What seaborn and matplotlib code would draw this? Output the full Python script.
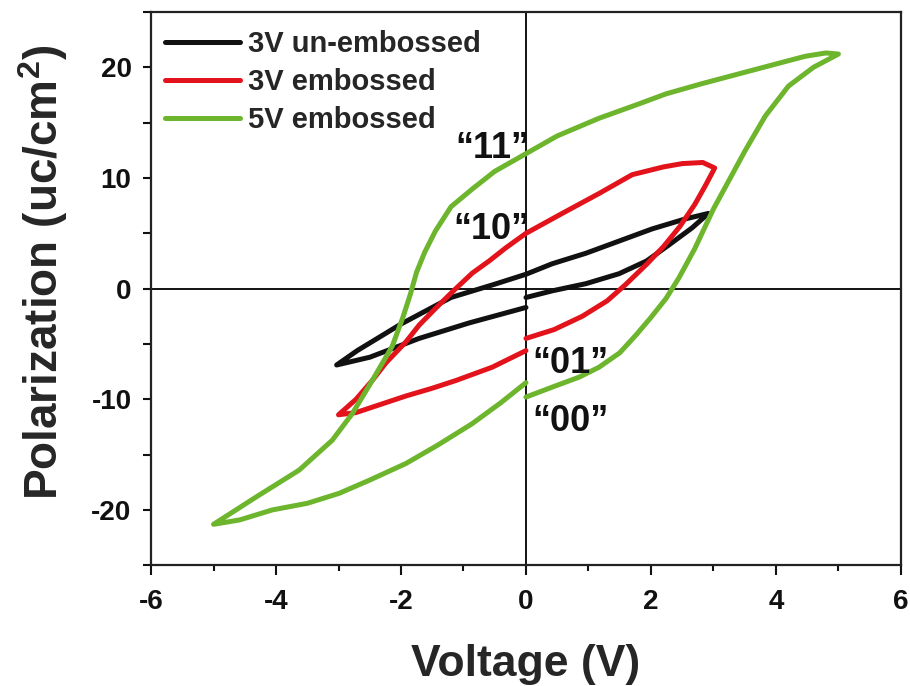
import matplotlib
matplotlib.use("Agg")
import matplotlib.pyplot as plt
import seaborn as sns
import pandas as pd
from matplotlib.ticker import MultipleLocator

# ---- data ----
v_black = [0, 0.42, 0.96, 1.49, 1.93, 2.3, 2.66, 2.92, 2.55, 2.02, 1.49, 0.96, 0.42, 0,
           -0.5, -1.2, -2.0, -2.7, -3.03, -2.5, -1.71, -0.91, 0]
p_black = [-0.8, -0.2, 0.45, 1.35, 2.5, 4.0, 5.5, 6.8, 6.3, 5.4, 4.3, 3.2, 2.25, 1.3,
           0.4, -0.8, -3.2, -5.6, -6.9, -6.2, -4.5, -3.1, -1.7]

v_red = [0, 0.45, 0.9, 1.3, 1.6, 1.93, 2.2, 2.46, 2.7, 2.87, 3.02, 2.83, 2.5, 2.2, 1.7,
         1.17, 0.58, 0, -0.32, -0.59, -0.86, -1.18, -1.45, -1.71, -1.92, -2.24, -2.46,
         -2.72, -3.0, -2.72, -2.4, -1.92, -1.5, -1.12, -0.54, 0]
p_red = [-4.5, -3.7, -2.5, -1.1, 0.4, 2.2, 3.8, 5.6, 7.6, 9.3, 10.9, 11.4, 11.3, 11.0, 10.3,
         8.6, 6.8, 5.0, 3.7, 2.5, 1.4, -0.3, -1.8, -3.3, -4.8, -6.7, -8.3,
         -10.0, -11.4, -11.2, -10.6, -9.7, -9.0, -8.3, -7.1, -5.6]

v_green = [0, 0.42, 0.85, 1.17, 1.5, 1.76, 2.0, 2.24, 2.45, 2.7, 3.0, 3.26, 3.5, 3.83, 4.2,
           4.6, 5.0, 4.8, 4.47, 4.0, 3.4, 2.8, 2.24, 1.81, 1.17, 0.5, 0, -0.5, -0.86, -1.2,
           -1.45, -1.62, -1.75, -1.85, -1.97, -2.14, -2.46, -2.78, -3.1, -3.63, -4.31, -5.0,
           -4.58, -4.06, -3.5, -2.99, -2.5, -1.92, -1.4, -0.86, -0.4, 0]
p_green = [-9.8, -8.9, -8.0, -7.1, -5.8, -4.2, -2.6, -0.9, 1.0, 3.6, 7.2, 9.9, 12.4, 15.6, 18.3,
           20.0, 21.2, 21.3, 21.0, 20.3, 19.4, 18.5, 17.6, 16.7, 15.4, 13.8, 12.2, 10.6, 9.0, 7.4,
           5.2, 3.3, 1.5, -0.5, -2.6, -5.2, -8.3, -11.3, -13.7, -16.4, -18.8, -21.3,
           -20.9, -20.0, -19.4, -18.5, -17.3, -15.8, -14.1, -12.2, -10.3, -8.5]

series_names = ["3V un-embossed", "3V embossed", "5V embossed"]
series_colors = ["#111111", "#e3131b", "#6cb52d"]

state_labels = ["\u201c11\u201d", "\u201c10\u201d", "\u201c01\u201d", "\u201c00\u201d"]
state_v = [0.05, 0.05, 0.1, 0.1]
state_p = [12.7, 5.3, -6.8, -12.0]
state_ha = ["right", "right", "left", "left"]

x_ticks = [-6, -4, -2, 0, 2, 4, 6]
y_ticks = [-20, -10, 0, 10, 20]

# ---- style ----
sns.set_theme(style="white")
plt.rcParams["font.family"] = ["Liberation Sans", "DejaVu Sans"]
plt.rcParams["mathtext.fontset"] = "custom"
plt.rcParams["mathtext.rm"] = "Liberation Sans:bold"
plt.rcParams["mathtext.bf"] = "Liberation Sans:bold"
plt.rcParams["mathtext.default"] = "bf"

fig = plt.figure(figsize=(9.1, 6.86), dpi=100)
ax = fig.add_axes([0.166, 0.176, 0.824, 0.8065])

ax.axhline(0, color="black", lw=1.3, zorder=1)
ax.axvline(0, color="black", lw=1.3, zorder=1)

for vs, ps, name, col in zip([v_black, v_red, v_green], [p_black, p_red, p_green],
                             series_names, series_colors):
    df = pd.DataFrame({"V": vs, "P": ps})
    sns.lineplot(data=df, x="V", y="P", sort=False, estimator=None, color=col,
                 lw=3.6, label=name, ax=ax, zorder=3, solid_joinstyle="round",
                 solid_capstyle="round")

for lab, xv, yv, ha in zip(state_labels, state_v, state_p, state_ha):
    ax.text(xv, yv, lab, ha=ha, va="center", fontsize=26, fontweight="bold",
            color="#111111", zorder=4)

ax.set_xlim(-6, 6)
ax.set_ylim(-25, 25)
ax.set_xticks(x_ticks)
ax.set_yticks(y_ticks)
ax.xaxis.set_minor_locator(MultipleLocator(1))
ax.yaxis.set_minor_locator(MultipleLocator(5))
ax.set_xticklabels([str(t) for t in x_ticks], fontsize=20, fontweight="bold")
ax.set_yticklabels([str(t) for t in y_ticks], fontsize=20, fontweight="bold")

ax.tick_params(axis="x", which="major", direction="out", length=7, width=1.5,
               bottom=True, top=False, pad=10, colors="#111111")
ax.tick_params(axis="x", which="minor", direction="out", length=4.5, width=1.5,
               bottom=True, top=False, colors="#111111")
ax.tick_params(axis="y", which="both", direction="out", length=6, width=1.5,
               left=True, right=False, pad=8, colors="#111111")

for s in ax.spines.values():
    s.set_color("#222222")
    s.set_linewidth(1.6)

ax.set_xlabel("Voltage (V)", fontsize=32, fontweight="bold", labelpad=21)
ax.set_ylabel("Polarization (uc/cm$^{2}$)", fontsize=33, fontweight="bold")
ax.yaxis.set_label_coords(-0.108, 0.53)

leg = ax.legend(loc="upper left", bbox_to_anchor=(-0.009, 1.004), frameon=False,
                handlelength=2.57, handletextpad=0.3, labelspacing=0.345,
                borderaxespad=0.3, prop={"size": 21, "weight": "bold"})
for line in leg.get_lines():
    line.set_linewidth(3.6)

fig.savefig("out.png", dpi=100)
